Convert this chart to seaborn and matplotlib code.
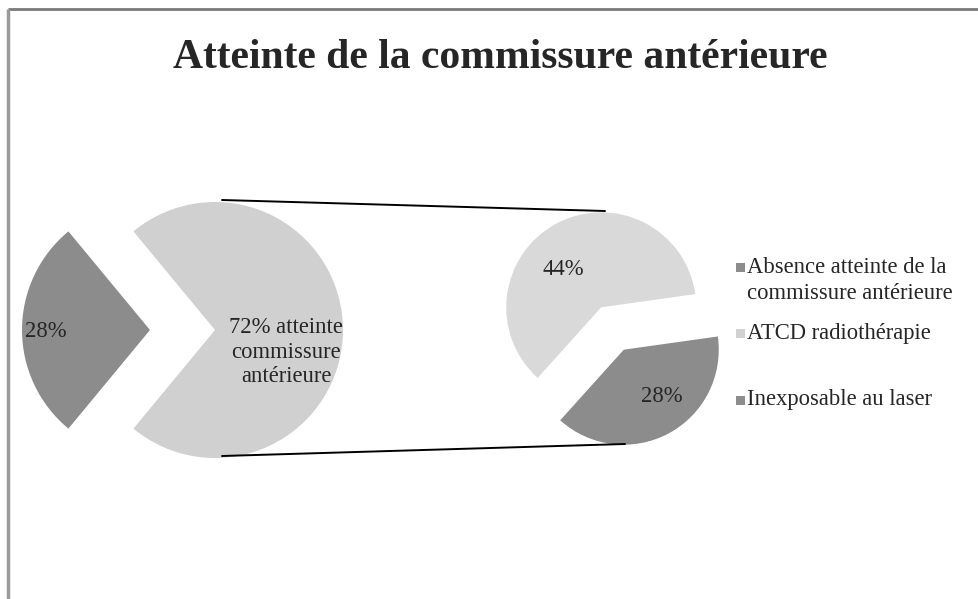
import matplotlib
matplotlib.use("Agg")
import matplotlib.pyplot as plt
from matplotlib.patches import Rectangle
import seaborn as sns

# Data
main_labels = ["Absence atteinte de la\ncommissure antérieure",
               "atteinte commissure antérieure"]
main_values = [28, 72]
sub_labels = ["ATCD radiothérapie", "Inexposable au laser"]
sub_values = [44, 28]
title = "Atteinte de la commissure antérieure"

sns.set_theme(style="white")
plt.rcParams["font.family"] = ["Liberation Serif", "DejaVu Serif"]

dark = "#8c8c8c"
light = "#d0d0d0"
light2 = "#d9d9d9"

W, H = 979, 599
fig = plt.figure(figsize=(W / 100, H / 100), dpi=100)
ax = fig.add_axes([0, 0, 1, 1])

# frame lines (top and left)
ax.plot([8, W], [H - 9, H - 9], color="#7a7a7a", lw=2, solid_capstyle="butt")
ax.plot([8, 8], [0, H - 9], color="#9a9a9a", lw=2.5, solid_capstyle="butt")

# main pie
r1 = 128
c1 = (215, H - 330)
start1 = 180 - 360 * main_values[0] / sum(main_values) / 2
ax.pie(main_values, colors=[dark, light], radius=r1, center=c1,
       startangle=start1, explode=[65, 0], frame=True,
       wedgeprops=dict(linewidth=0))

# secondary pie (breakdown of the 72 %)
r2 = 95
c2 = (612.5, H - 328.5)
ax.pie(sub_values, colors=[light2, dark], radius=r2, center=c2,
       startangle=8, explode=[24, 24], frame=True,
       wedgeprops=dict(linewidth=0))

ax.set_xlim(0, W)
ax.set_ylim(0, H)
ax.set_aspect("equal")
ax.axis("off")

# connector lines
ax.plot([222, 605], [H - 200, H - 211], color="black", lw=1.4)
ax.plot([222, 625], [H - 456, H - 444], color="black", lw=1.4)

fs = 16.3
ax.text(46, H - 331, f"{main_values[0]}%", ha="center", va="center", fontsize=fs)
ax.text(286, H - 352, f"{main_values[1]}% atteinte\ncommissure\nantérieure",
        ha="center", va="center", fontsize=fs, linespacing=1.2)
ax.text(563, H - 269, f"{sub_values[0]}%", ha="center", va="center", fontsize=fs)
ax.text(662, H - 396, f"{sub_values[1]}%", ha="center", va="center", fontsize=fs)

ax.text(500, H - 58, title, ha="center", va="center",
        fontsize=30, fontweight="bold")

# legend entries
leg_labels = [main_labels[0]] + sub_labels
leg_colors = [dark, light, dark]
leg_y = [267, 333, 400]
for lab, col, y in zip(leg_labels, leg_colors, leg_y):
    ax.add_patch(Rectangle((736, H - y - 4.5), 9, 9, color=col, lw=0))
    for i, line in enumerate(lab.split("\n")):
        ax.text(747, H - y - 26 * i, line, ha="left", va="center", fontsize=fs)

fig.savefig("out.png", dpi=100, facecolor="white")
